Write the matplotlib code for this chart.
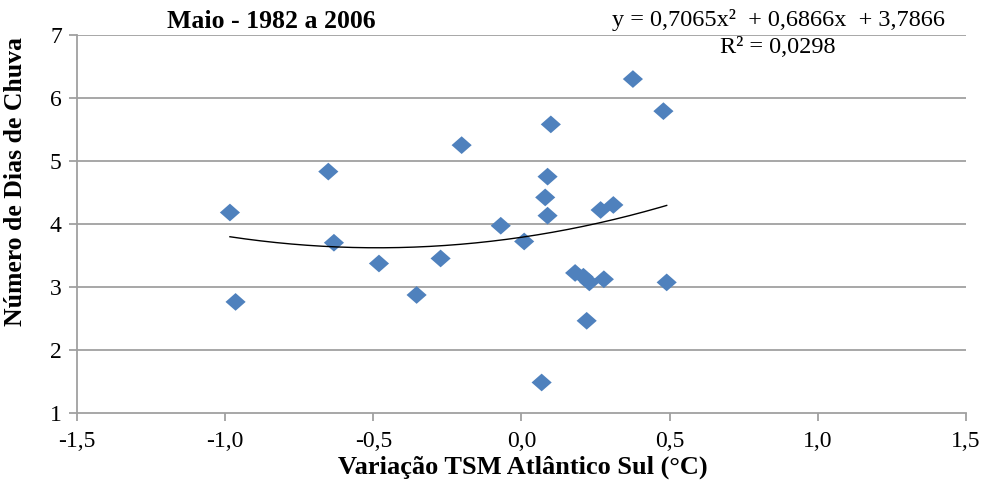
import numpy as np
import matplotlib
matplotlib.use("Agg")
import matplotlib.pyplot as plt
from matplotlib.path import Path

# Data
tsm = [-0.984, -0.965, -0.652, -0.633, -0.481, -0.354, -0.273, -0.202, -0.070,
       0.009, 0.068, 0.080, 0.088, 0.088, 0.099, 0.181, 0.209, 0.220, 0.229,
       0.267, 0.278, 0.310, 0.376, 0.479, 0.490]
dias = [4.18, 2.76, 4.83, 3.70, 3.37, 2.87, 3.45, 5.25, 3.97,
        3.72, 1.48, 4.42, 4.75, 4.13, 5.58, 3.22, 3.16, 2.46, 3.07,
        4.22, 3.12, 4.30, 6.30, 5.79, 3.07]
coef = [0.7065, 0.6866, 3.7866]
r2 = 0.0298
title = "Maio - 1982 a 2006"
xticks = [-1.5, -1.0, -0.5, 0.0, 0.5, 1.0, 1.5]
yticks = [1, 2, 3, 4, 5, 6, 7]

plt.rcParams['font.family'] = ['Liberation Serif', 'DejaVu Serif']

fig = plt.figure(figsize=(9.89, 4.88), dpi=100)
ax = fig.add_axes([0.0779, 0.1543, 0.8988, 0.7740])

gray = '#A0A0A0'
for y in yticks[1:]:
    ax.axhline(y, color=gray, lw=1.3, zorder=0)

diamond = Path([(-1, 0), (0, 0.88), (1, 0), (0, -0.88), (-1, 0)],
               [Path.MOVETO, Path.LINETO, Path.LINETO, Path.LINETO, Path.CLOSEPOLY])
ax.scatter(tsm, dias, marker=diamond, s=14.5**2, color='#4F81BD',
           edgecolors='none', zorder=3)

xs = np.linspace(min(tsm), max(tsm), 200)
ax.plot(xs, np.polyval(coef, xs), color='black', lw=1.0, zorder=4)

ax.set_xlim(-1.5, 1.5)
ax.set_ylim(1, 7)
ax.set_xticks(xticks)
ax.set_xticklabels([f"{v:.1f}".replace('.', ',') for v in xticks])
ax.set_yticks(yticks)
ax.set_yticklabels([str(v) for v in yticks])
ax.tick_params(axis='both', direction='out', length=6, width=1.3, color=gray,
               labelsize=17)
ax.tick_params(axis='x', pad=7)
ax.tick_params(axis='y', pad=5)
for s in ['top', 'right']:
    ax.spines[s].set_visible(False)
for s in ['left', 'bottom']:
    ax.spines[s].set_color(gray)
    ax.spines[s].set_linewidth(1.3)

fig.text(523 / 989, 1 - 467 / 488, "Variação TSM Atlântico Sul (°C)",
         ha='center', va='center', fontsize=19, fontweight='bold')
fig.text(16 / 989, 1 - 182 / 488, "Número de Dias de Chuva", rotation=90,
         ha='center', va='center', fontsize=18.5, fontweight='bold')

fig.text(271.5 / 989, 1 - 21 / 488, title, ha='center', va='center',
         fontsize=18.5, fontweight='bold')
eq = "y = 0,7065x²  + 0,6866x  + 3,7866"
fig.text(778 / 989, 1 - 20 / 488, eq, ha='center', va='center', fontsize=17.5)
fig.text(778 / 989, 1 - 47.5 / 488, f"R² = {r2:.4f}".replace('.', ','),
         ha='center', va='center', fontsize=17.5)

fig.savefig("out.png", dpi=100)
